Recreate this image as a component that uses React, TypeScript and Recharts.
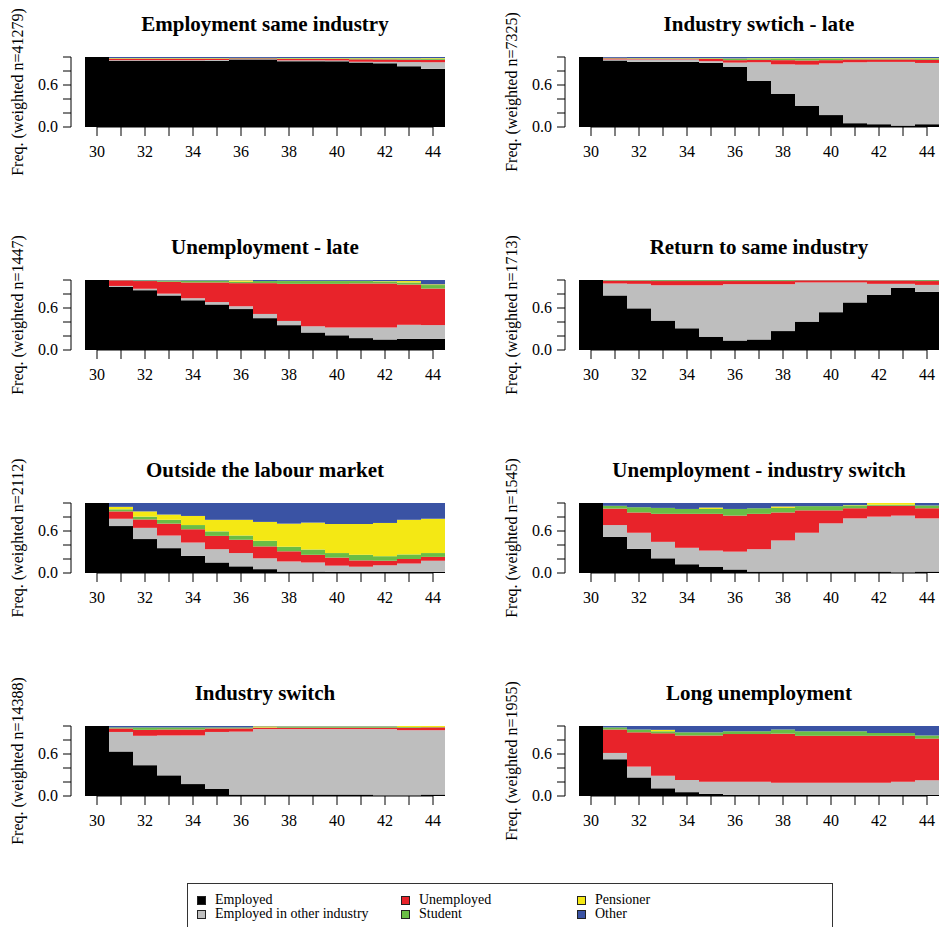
import React from "react";
import { BarChart, Bar, XAxis, YAxis, ReferenceLine } from "recharts";

const FONT = '"Liberation Serif", "DejaVu Serif", serif';

const ages = [30, 31, 32, 33, 34, 35, 36, 37, 38, 39, 40, 41, 42, 43, 44];

const stateKeys = ["employed", "otherIndustry", "unemployed", "student", "pensioner", "other"];
const stateLabels = ["Employed", "Employed in other industry", "Unemployed", "Student", "Pensioner", "Other"];
const stateColors = ["#000000", "#bebebe", "#e8232a", "#6abd45", "#f4e814", "#3a53a4"];

// one row per age: employed, other industry, unemployed, student, pensioner, other
const sameIndustry = [
  [1, 0, 0, 0, 0, 0],
  [0.945, 0.01, 0.02, 0.005, 0.005, 0.015],
  [0.945, 0.01, 0.02, 0.005, 0.005, 0.015],
  [0.945, 0.01, 0.02, 0.005, 0.005, 0.015],
  [0.945, 0.01, 0.02, 0.005, 0.005, 0.015],
  [0.945, 0.012, 0.018, 0.005, 0.005, 0.015],
  [0.965, 0.005, 0.01, 0.005, 0.002, 0.013],
  [0.965, 0.005, 0.01, 0.005, 0.002, 0.013],
  [0.94, 0.012, 0.02, 0.008, 0.005, 0.015],
  [0.94, 0.012, 0.02, 0.008, 0.005, 0.015],
  [0.938, 0.012, 0.022, 0.008, 0.005, 0.015],
  [0.922, 0.01, 0.035, 0.013, 0.005, 0.015],
  [0.91, 0.02, 0.035, 0.015, 0.005, 0.015],
  [0.868, 0.06, 0.035, 0.017, 0.005, 0.015],
  [0.83, 0.095, 0.035, 0.017, 0.008, 0.015],
];

const switchLate = [
  [1, 0, 0, 0, 0, 0],
  [0.95, 0.015, 0.015, 0.005, 0.003, 0.012],
  [0.93, 0.035, 0.012, 0.006, 0.003, 0.014],
  [0.93, 0.035, 0.012, 0.006, 0.003, 0.014],
  [0.93, 0.035, 0.012, 0.006, 0.003, 0.014],
  [0.915, 0.025, 0.035, 0.008, 0.003, 0.014],
  [0.86, 0.06, 0.035, 0.02, 0.005, 0.02],
  [0.66, 0.265, 0.035, 0.02, 0.005, 0.015],
  [0.475, 0.42, 0.06, 0.025, 0.005, 0.015],
  [0.3, 0.59, 0.06, 0.028, 0.005, 0.017],
  [0.17, 0.74, 0.045, 0.025, 0.005, 0.015],
  [0.055, 0.87, 0.04, 0.015, 0.005, 0.015],
  [0.04, 0.89, 0.035, 0.015, 0.005, 0.015],
  [0.02, 0.91, 0.035, 0.015, 0.005, 0.015],
  [0.04, 0.875, 0.045, 0.02, 0.005, 0.015],
];

const unempLate = [
  [1, 0, 0, 0, 0, 0],
  [0.9, 0.015, 0.08, 0.003, 0, 0.002],
  [0.855, 0.02, 0.11, 0.01, 0, 0.005],
  [0.78, 0.025, 0.17, 0.015, 0.003, 0.007],
  [0.71, 0.03, 0.225, 0.025, 0.002, 0.008],
  [0.65, 0.035, 0.28, 0.025, 0.002, 0.008],
  [0.585, 0.04, 0.33, 0.02, 0.02, 0.005],
  [0.455, 0.06, 0.44, 0.03, 0, 0.015],
  [0.355, 0.06, 0.53, 0.04, 0.003, 0.012],
  [0.25, 0.09, 0.605, 0.04, 0.003, 0.012],
  [0.21, 0.11, 0.625, 0.04, 0.003, 0.012],
  [0.17, 0.15, 0.63, 0.035, 0.003, 0.012],
  [0.15, 0.17, 0.63, 0.03, 0.005, 0.015],
  [0.16, 0.2, 0.575, 0.03, 0.02, 0.015],
  [0.16, 0.196, 0.522, 0.05, 0.01, 0.062],
];

const returnSame = [
  [1, 0, 0, 0, 0, 0],
  [0.78, 0.17, 0.04, 0.008, 0, 0.002],
  [0.595, 0.35, 0.045, 0.008, 0, 0.002],
  [0.42, 0.505, 0.06, 0.013, 0, 0.002],
  [0.31, 0.615, 0.06, 0.013, 0, 0.002],
  [0.19, 0.735, 0.06, 0.013, 0, 0.002],
  [0.135, 0.805, 0.045, 0.013, 0, 0.002],
  [0.15, 0.79, 0.045, 0.013, 0, 0.002],
  [0.27, 0.67, 0.045, 0.013, 0, 0.002],
  [0.405, 0.56, 0.03, 0.003, 0, 0.002],
  [0.54, 0.425, 0.03, 0.003, 0, 0.002],
  [0.68, 0.285, 0.03, 0.003, 0, 0.002],
  [0.79, 0.155, 0.048, 0.005, 0, 0.002],
  [0.89, 0.055, 0.048, 0.005, 0, 0.002],
  [0.83, 0.1, 0.055, 0.013, 0, 0.002],
];

const outside = [
  [1, 0, 0, 0, 0, 0],
  [0.67, 0.105, 0.105, 0.03, 0.035, 0.055],
  [0.485, 0.16, 0.12, 0.04, 0.075, 0.12],
  [0.355, 0.18, 0.17, 0.055, 0.075, 0.165],
  [0.245, 0.19, 0.19, 0.06, 0.13, 0.185],
  [0.15, 0.19, 0.19, 0.065, 0.165, 0.24],
  [0.095, 0.19, 0.19, 0.06, 0.225, 0.24],
  [0.055, 0.155, 0.17, 0.08, 0.27, 0.27],
  [0.02, 0.145, 0.145, 0.065, 0.33, 0.295],
  [0.02, 0.13, 0.11, 0.075, 0.385, 0.28],
  [0.015, 0.09, 0.115, 0.065, 0.415, 0.3],
  [0.015, 0.075, 0.09, 0.08, 0.44, 0.3],
  [0.015, 0.095, 0.065, 0.065, 0.475, 0.285],
  [0.015, 0.12, 0.065, 0.065, 0.495, 0.24],
  [0.015, 0.16, 0.055, 0.055, 0.49, 0.225],
];

const unempSwitch = [
  [1, 0, 0, 0, 0, 0],
  [0.515, 0.17, 0.235, 0.04, 0, 0.04],
  [0.345, 0.23, 0.29, 0.075, 0, 0.06],
  [0.21, 0.235, 0.4, 0.085, 0, 0.07],
  [0.125, 0.235, 0.485, 0.07, 0, 0.085],
  [0.09, 0.23, 0.525, 0.07, 0.02, 0.065],
  [0.05, 0.255, 0.515, 0.095, 0, 0.085],
  [0.02, 0.32, 0.505, 0.08, 0, 0.075],
  [0.02, 0.445, 0.4, 0.065, 0.02, 0.05],
  [0.02, 0.555, 0.32, 0.06, 0, 0.045],
  [0.02, 0.69, 0.185, 0.06, 0, 0.045],
  [0.02, 0.76, 0.145, 0.04, 0.005, 0.03],
  [0.02, 0.785, 0.155, 0.015, 0.025, 0],
  [0, 0.82, 0.14, 0.015, 0.025, 0],
  [0.02, 0.76, 0.145, 0.04, 0, 0.035],
];

const industrySwitch = [
  [1, 0, 0, 0, 0, 0],
  [0.635, 0.28, 0.05, 0.015, 0, 0.02],
  [0.44, 0.42, 0.085, 0.035, 0, 0.02],
  [0.295, 0.57, 0.085, 0.03, 0, 0.02],
  [0.17, 0.695, 0.085, 0.03, 0, 0.02],
  [0.1, 0.815, 0.05, 0.015, 0, 0.02],
  [0.02, 0.9, 0.045, 0.015, 0, 0.02],
  [0.02, 0.935, 0.02, 0.005, 0.015, 0.005],
  [0.02, 0.935, 0.02, 0.015, 0.005, 0.005],
  [0.02, 0.935, 0.02, 0.015, 0.005, 0.005],
  [0.02, 0.935, 0.02, 0.015, 0.005, 0.005],
  [0.02, 0.935, 0.02, 0.015, 0.005, 0.005],
  [0, 0.955, 0.02, 0.015, 0.005, 0.005],
  [0, 0.94, 0.035, 0.01, 0.015, 0],
  [0.02, 0.92, 0.04, 0.005, 0.015, 0],
];

const longUnemp = [
  [1, 0, 0, 0, 0, 0],
  [0.525, 0.09, 0.335, 0.03, 0, 0.02],
  [0.265, 0.155, 0.49, 0.04, 0, 0.05],
  [0.11, 0.18, 0.605, 0.03, 0.02, 0.055],
  [0.055, 0.175, 0.635, 0.045, 0, 0.09],
  [0.03, 0.175, 0.66, 0.045, 0, 0.09],
  [0.015, 0.19, 0.68, 0.04, 0, 0.075],
  [0.015, 0.19, 0.68, 0.04, 0, 0.075],
  [0.015, 0.175, 0.7, 0.06, 0, 0.05],
  [0.015, 0.175, 0.67, 0.065, 0, 0.075],
  [0.015, 0.175, 0.67, 0.065, 0, 0.075],
  [0.015, 0.175, 0.67, 0.065, 0, 0.075],
  [0.015, 0.175, 0.67, 0.04, 0, 0.1],
  [0.015, 0.19, 0.655, 0.04, 0, 0.1],
  [0.015, 0.21, 0.595, 0.045, 0, 0.135],
];

const panelTitles = [
  "Employment same industry",
  "Industry swtich - late",
  "Unemployment - late",
  "Return to same industry",
  "Outside the labour market",
  "Unemployment - industry switch",
  "Industry switch",
  "Long unemployment",
];
const panelN = [41279, 7325, 1447, 1713, 2112, 1545, 14388, 1955];
const panelRows = [sameIndustry, switchLate, unempLate, returnSame, outside, unempSwitch, industrySwitch, longUnemp];

const yTicks = [0, 0.2, 0.4, 0.6, 0.8, 1];

const colLeft = [0, 494];
const rowPlotTop = [57, 280, 503, 726];

const XTick = (props: any) => {
  const { x, y, payload } = props;
  const v = payload.value;
  return (
    <text x={x} y={y} dy={21} textAnchor="middle" fontSize={16} fontFamily={FONT} fill="#000">
      {v % 2 === 0 ? String(v) : ""}
    </text>
  );
};

const YTick = (props: any) => {
  const { x, y, payload } = props;
  const v = payload.value;
  const show = v === 0 || v === 0.6;
  return (
    <text x={x} y={y} dy={5} textAnchor="end" fontSize={16} fontFamily={FONT} fill="#000">
      {show ? v.toFixed(1) : ""}
    </text>
  );
};

const Panel = ({ idx }: { idx: number }) => {
  const left = colLeft[idx % 2];
  const plotTop = rowPlotTop[Math.floor(idx / 2)];
  const rows = panelRows[idx];
  const data = ages.map((age, i) => {
    const d: any = { age };
    stateKeys.forEach((k, j) => {
      d[k] = rows[i][j];
    });
    return d;
  });

  return (
    <>
      <div
        style={{
          position: "absolute",
          left: left + 85,
          top: plotTop - 43,
          width: 360,
          textAlign: "center",
          fontFamily: FONT,
          fontWeight: "bold",
          fontSize: 21,
          lineHeight: "21px",
          whiteSpace: "nowrap",
        }}
      >
        {panelTitles[idx]}
      </div>
      <div style={{ position: "absolute", left, top: plotTop - 57 }}>
        <BarChart
          width={445}
          height={200}
          data={data}
          margin={{ top: 57, right: 0, bottom: 33, left: 0 }}
          barCategoryGap={0}
          barGap={0}
        >
          <XAxis
            dataKey="age"
            type="category"
            interval={0}
            padding={{ left: 14, right: 0 }}
            height={40}
            axisLine={false}
            tickLine={{ stroke: "#000" }}
            tickSize={9}
            tickMargin={0}
            tick={<XTick />}
          />
          <YAxis
            type="number"
            domain={[0, 1]}
            ticks={yTicks}
            interval={0}
            allowDataOverflow
            width={71}
            stroke="#000"
            axisLine={{ stroke: "#000" }}
            tickLine={{ stroke: "#000" }}
            tickSize={8}
            tickMargin={5}
            tick={<YTick />}
            label={{
              value: `Freq. (weighted n=${panelN[idx]})`,
              angle: -90,
              position: "insideLeft",
              offset: 17,
              fill: "#000",
              fontSize: 16,
              fontFamily: FONT,
              style: { textAnchor: "middle" },
            }}
          />
          {stateKeys.map((k, j) => (
            <Bar key={k} dataKey={k} stackId="s" fill={stateColors[j]} isAnimationActive={false} />
          ))}
          <ReferenceLine
            segment={[
              { x: ages[0], y: 0 },
              { x: ages[ages.length - 1], y: 0 },
            ]}
            stroke="#000"
          />
        </BarChart>
      </div>
    </>
  );
};

const legendSquareX = [197, 401, 577];
const legendRowY = [900, 914];

const Legend = () => (
  <div
    style={{
      position: "absolute",
      left: 187,
      top: 883,
      width: 646,
      height: 60,
      border: "1px solid #333",
      boxSizing: "border-box",
    }}
  >
    {stateLabels.map((label, j) => {
      const col = Math.floor(j / 2);
      const row = j % 2;
      return (
        <div
          key={label}
          style={{
            position: "absolute",
            left: legendSquareX[col] - 188,
            top: legendRowY[row] - 884 - 7,
            height: 14,
            display: "flex",
            alignItems: "center",
            gap: 9,
            fontFamily: FONT,
            fontSize: 14,
            lineHeight: "14px",
            whiteSpace: "nowrap",
          }}
        >
          <span
            style={{
              display: "inline-block",
              width: 7,
              height: 7,
              background: stateColors[j],
              border: "1px solid #222",
            }}
          />
          <span>{label}</span>
        </div>
      );
    })}
  </div>
);

export default function App() {
  return (
    <div
      style={{
        position: "absolute",
        left: 0,
        top: 0,
        width: 939,
        height: 927,
        overflow: "hidden",
        background: "#fff",
      }}
    >
      {panelTitles.map((_, i) => (
        <Panel key={i} idx={i} />
      ))}
      <Legend />
    </div>
  );
}
